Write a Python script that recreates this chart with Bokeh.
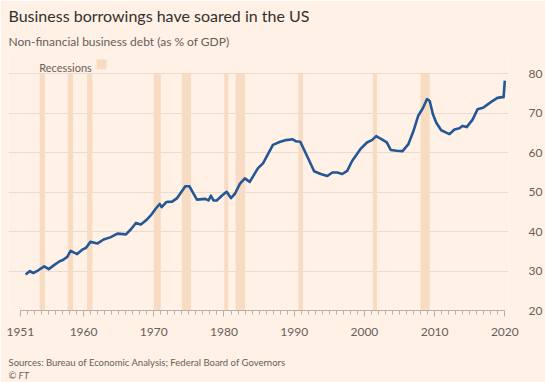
from bokeh.plotting import figure
from bokeh.models import FixedTicker, Label, BoxAnnotation, ColumnDataSource, Title
from bokeh.embed import file_html
from bokeh.resources import INLINE

# ---- data ----
years = [1951.75, 1952.36, 1952.83, 1953.54, 1954.39, 1955.04, 1955.80, 1956.60, 1957.06, 1957.68,
         1958.15, 1959.09, 1959.89, 1960.36, 1960.97, 1962.00, 1962.85, 1963.88, 1964.82, 1966.04,
         1966.75, 1967.46, 1968.16, 1968.86, 1969.57, 1970.27, 1970.84, 1971.12, 1971.78, 1972.62,
         1973.33, 1973.80, 1974.50, 1975.07, 1975.54, 1976.15, 1977.33, 1977.80, 1978.13, 1978.50,
         1978.97, 1979.68, 1980.38, 1980.99, 1981.56, 1982.26, 1982.97, 1983.67, 1984.85, 1985.56,
         1986.97, 1987.91, 1988.85, 1989.79, 1990.26, 1990.87, 1991.90, 1992.84, 1993.78, 1994.72,
         1995.43, 1996.14, 1996.85, 1997.55, 1998.25, 1999.42, 2000.36, 2001.07, 2001.68, 2002.48,
         2003.19, 2003.75, 2004.60, 2005.44, 2006.24, 2006.95, 2007.65, 2008.36, 2008.92, 2009.30,
         2009.77, 2010.24, 2010.94, 2011.65, 2012.12, 2012.82, 2013.53, 2014.00, 2014.56, 2015.41,
         2016.11, 2016.91, 2017.52, 2018.23, 2018.94, 2019.64, 2019.83, 2020.00]
debt_pct_gdp = [29.1, 30.0, 29.5, 30.2, 31.2, 30.5, 31.5, 32.5, 32.8, 33.6,
                35.1, 34.3, 35.5, 35.9, 37.4, 37.0, 38.0, 38.6, 39.5, 39.3,
                40.6, 42.2, 41.8, 42.8, 44.1, 45.8, 47.0, 46.2, 47.5, 47.6,
                48.5, 49.7, 51.5, 51.5, 50.0, 48.1, 48.3, 47.9, 49.1, 47.9,
                47.9, 49.1, 50.1, 48.5, 49.6, 52.1, 53.5, 52.6, 56.1, 57.3,
                62.0, 62.7, 63.2, 63.4, 62.9, 62.8, 58.9, 55.3, 54.6, 54.1,
                55.0, 55.0, 54.6, 55.4, 57.9, 60.9, 62.6, 63.2, 64.2, 63.4,
                62.6, 60.7, 60.5, 60.4, 62.1, 65.3, 69.3, 71.4, 73.6, 73.1,
                69.7, 67.6, 65.7, 65.1, 64.7, 65.9, 66.2, 66.8, 66.5, 68.4,
                71.0, 71.4, 72.2, 73.1, 73.9, 74.1, 74.1, 78.3]

recession_start = [1953.75, 1957.75, 1960.5, 1970.0, 1974.0, 1980.05, 1981.65, 1990.6, 2001.2, 2008.0]
recession_end = [1954.5, 1958.5, 1961.25, 1971.0, 1975.3, 1980.6, 1983.0, 1991.25, 2001.8, 2009.3]

x_tick_years = [1951, 1960, 1970, 1980, 1990, 2000, 2010, 2020]
x_minor_years = list(range(1951, 2021))
y_ticks = [20, 30, 40, 50, 60, 70, 80]

title_text = "Business borrowings have soared in the US"
subtitle_text = "Non-financial business debt (as % of GDP)"
legend_text = "Recessions"
source_text = "Sources: Bureau of Economic Analysis; Federal Board of Governors"
credit_text = "\u00a9 FT"

# ---- style / layout (pixels) ----
BG = "#fff1e5"
LINE = "#245796"
BAND = "#f7dcc3"
GRID = "#e8dbcf"
AXIS = "#b9b0a8"
TEXT_DARK = "#33302e"
TEXT_GREY = "#66605c"
FONT = "Lato"

W, H = 545, 382
FRAME_L, FRAME_R, FRAME_T, FRAME_B = 8, 513, 52, 312
X0_PX, PX_PER_YEAR = 20, 7.091        # 1951 sits at x=20 px
PX_PER_UNIT = 3.975                     # vertical scale

x_start = x_tick_years[0] - (X0_PX - FRAME_L) / PX_PER_YEAR
x_end = x_start + (FRAME_R - FRAME_L) / PX_PER_YEAR
y_end = y_ticks[0] + (FRAME_B - FRAME_T) / PX_PER_UNIT


def xpx(px):
    return x_start + (px - FRAME_L) / PX_PER_YEAR


def ypx(py):
    return y_ticks[0] + (FRAME_B - py) / PX_PER_UNIT


p = figure(width=W, height=H, output_backend="svg", toolbar_location=None,
           x_range=(x_start, x_end), y_range=(y_ticks[0], y_end), y_axis_location="right",
           min_border_left=FRAME_L, min_border_right=W - FRAME_R,
           min_border_top=FRAME_T, min_border_bottom=H - FRAME_B,
           background_fill_color=BG, border_fill_color=BG, outline_line_color=None)

# recession bands
rec_src = ColumnDataSource(dict(left=recession_start, right=recession_end,
                                bottom=[y_ticks[0]] * len(recession_start),
                                top=[y_ticks[-1]] * len(recession_start)))
p.quad(left="left", right="right", bottom="bottom", top="top", source=rec_src,
       fill_color=BAND, line_color=None)

# debt line
p.line(years, debt_pct_gdp, line_color=LINE, line_width=2.6, line_join="round")

# x axis
xa = p.xaxis[0]
xa.ticker = FixedTicker(ticks=x_tick_years, minor_ticks=x_minor_years)
xa.bounds = (x_tick_years[0], x_tick_years[-1])
xa.axis_line_color = AXIS
xa.major_tick_line_color = AXIS
xa.minor_tick_line_color = AXIS
xa.major_tick_in = 0
xa.major_tick_out = 6
xa.minor_tick_in = 0
xa.minor_tick_out = 4
xa.major_label_standoff = 11
xa.major_label_text_font = FONT
xa.major_label_text_font_size = "12px"
xa.major_label_text_color = TEXT_GREY
# blank axis label used only as vertical spacing before the footer
xa.axis_label = " "
xa.axis_label_standoff = 3
xa.axis_label_text_font = FONT
xa.axis_label_text_font_size = "10px"
xa.axis_label_text_font_style = "normal"
xa.axis_label_text_color = BG

# y axis (right)
ya = p.yaxis[0]
ya.ticker = FixedTicker(ticks=y_ticks)
ya.axis_line_color = None
ya.major_tick_line_color = None
ya.minor_tick_line_color = None
ya.major_label_standoff = 14
ya.major_label_text_font = FONT
ya.major_label_text_font_size = "12px"
ya.major_label_text_color = TEXT_GREY

p.xgrid.grid_line_color = None
p.ygrid.grid_line_color = GRID
p.ygrid.grid_line_width = 1
p.ygrid.bounds = (xpx(23), x_end)

# title + subtitle (closest to the frame first)
p.add_layout(Title(text=subtitle_text, align="left", offset=0, standoff=8,
                   text_font=FONT, text_font_size="12px", text_font_style="normal",
                   text_color=TEXT_GREY), "above")
p.add_layout(Title(text=title_text, align="left", offset=0, standoff=6,
                   text_font=FONT, text_font_size="16px", text_font_style="normal",
                   text_color=TEXT_DARK), "above")

# footer (below the axis, in order outward)
p.add_layout(Title(text=source_text, align="left", offset=0, standoff=0, vertical_align="top",
                   text_font=FONT, text_font_size="9.5px", text_font_style="normal",
                   text_line_height=1.1, text_color=TEXT_GREY), "below")
p.add_layout(Title(text=credit_text, align="left", offset=0, standoff=0, vertical_align="top",
                   text_font=FONT, text_font_size="9.5px", text_font_style="italic",
                   text_line_height=1.1, text_color=TEXT_GREY), "below")

# legend for recession shading
p.add_layout(Label(x=xpx(39), y=ypx(67.5), text=legend_text, text_font=FONT,
                   text_font_size="11px", text_color=TEXT_GREY, text_baseline="alphabetic"))
p.add_layout(BoxAnnotation(left=xpx(97), right=xpx(107), bottom=ypx(69), top=ypx(59),
                           fill_color=BAND, fill_alpha=1, line_color=None))

open("out.html", "w").write(file_html(p, INLINE))
